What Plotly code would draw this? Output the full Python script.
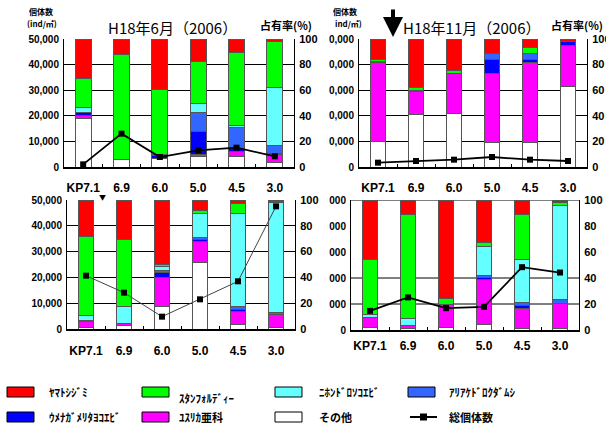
import plotly.graph_objects as go

W, H = 606, 427

categories = ["KP7.1", "6.9", "6.0", "5.0", "4.5", "3.0"]
panel_titles = ["H18年6月（2006）", "H18年11月（2006）", "", ""]
count_ticks = [0, 10000, 20000, 30000, 40000, 50000]
count_labels_full = ["0", "10,000", "20,000", "30,000", "40,000", "50,000"]
count_labels_tr = ["0", "0,000", "0,000", "0,000", "0,000", "0,000"]
count_labels_br = ["0", "000", "000", "000", "000", "000"]
pct_ticks = [0, 20, 40, 60, 80, 100]

series_names = ["その他", "ﾕｽﾘｶ亜科", "ｳﾒﾅｶﾞﾒﾘﾀﾖｺｴﾋﾞ", "ｱﾘｱｹﾄﾞﾛｸﾀﾞﾑｼ",
                "ﾆﾎﾝﾄﾞﾛｿｺｴﾋﾞ", "ｽﾀﾝﾌｫﾙﾃﾞｨｰ", "ﾔﾏﾄｼｼﾞﾐ"]
line_name = "総個体数"

# share (%) per panel: [top-left, top-right, bottom-left, bottom-right]
other = [[37.8, 5.7, 6.5, 8.3, 8.3, 3.9],
         [19.8, 40.9, 41.7, 19.5, 19.5, 63.0],
         [1.0, 2.6, 17.8, 51.7, 3.6, 1.3],
         [2.3, 1.0, 2.3, 4.4, 1.0, 1.0]]
yusurika = [[2.6, 0, 0, 1.6, 4.2, 6.0],
            [62.0, 17.7, 31.2, 53.9, 62.5, 32.0],
            [4.7, 1.3, 22.0, 16.5, 9.8, 9.6],
            [7.3, 2.1, 17.6, 34.4, 15.5, 19.7]]
umenaga = [[1.8, 0, 2.5, 18.2, 1.8, 0.5],
           [0, 1.0, 0, 10.5, 1.9, 2.7],
           [0.8, 0, 4.1, 0.8, 1.6, 0],
           [0, 0, 0, 1.8, 2.1, 0]]
ariake = [[0.5, 0, 1.0, 14.1, 16.2, 6.5],
          [0, 0.3, 0, 4.6, 4.6, 0],
          [0, 0, 1.1, 2.1, 2.1, 2.0],
          [0, 0, 0, 1.3, 2.6, 3.1]]
nihon = [[3.7, 0, 0, 7.3, 1.8, 45.1],
         [1.0, 0, 0, 0, 0, 0],
         [3.8, 13.4, 3.3, 18.6, 72.6, 85.3],
         [2.5, 5.9, 0, 22.7, 33.1, 71.8]]
stanford = [[22.4, 82.1, 50.4, 33.3, 57.5, 35.7],
            [1.1, 2.6, 2.6, 0, 4.5, 0],
            [61.3, 51.7, 1.8, 1.8, 7.7, 1.0],
            [42.2, 79.9, 4.4, 2.6, 34.6, 2.6]]
yamato = [[31.2, 12.2, 39.6, 17.2, 10.2, 2.3],
          [16.1, 37.5, 24.5, 11.5, 7.0, 2.3],
          [28.4, 31.0, 49.9, 8.5, 2.6, 0.8],
          [45.7, 11.1, 75.7, 32.8, 11.1, 1.8]]
# total individuals (ind/m2)
total_count = [[1040, 13020, 3900, 6500, 7550, 4170],
               [1690, 2340, 2860, 3900, 2860, 2340],
               [20670, 14080, 4780, 11500, 18480, 47540],
               [7360, 12530, 8400, 8920, 24160, 22100]]

colors = ["#FFFFFF", "#FF00FF", "#0000FF", "#3366FF", "#66FFFF", "#00FF00", "#FF0000"]
all_series = [other, yusurika, umenaga, ariake, nihon, stanford, yamato]

NUMFONT = "Liberation Sans, Arial, sans-serif"
JPFONT = "Noto Sans CJK JP, sans-serif"


def px_x(x):
    return x / W


def px_y(y):
    return 1 - y / H


# panel boxes in pixels: (left, right, top, bottom)
panels = [(64, 294, 39, 167), (359, 587, 39, 167), (67, 295, 200, 329), (351, 579, 200, 330)]
count_labels = [count_labels_full, count_labels_tr, count_labels_full, count_labels_br]
line_colors = ["#000000", "#000000", "#444444", "#000000"]
line_widths = [1.8, 1.8, 1.0, 1.8]
xlabel_standoff = [9, 9, 10, 4]

fig = go.Figure()
layout = {}
for i, (l, r, t, b) in enumerate(panels):
    n = i + 1
    xa = "x" if n == 1 else f"x{n}"
    ya_p = "y" if n == 1 else f"y{2 * n - 1}"
    ya_c = f"y{2 * n}"
    for s, vals in enumerate(all_series):
        fig.add_trace(go.Bar(
            x=categories, y=[v if v else None for v in vals[i]],
            name=series_names[s], marker=dict(color=colors[s], line=dict(color="#555555", width=1)),
            width=0.42, xaxis=xa, yaxis=ya_p, showlegend=False))
    fig.add_trace(go.Scatter(
        x=categories, y=total_count[i], mode="lines+markers", name=line_name,
        line=dict(color=line_colors[i], width=line_widths[i]),
        marker=dict(symbol="square", size=6, color="#000000"),
        xaxis=xa, yaxis=ya_c, showlegend=False))

    xkey = "xaxis" if n == 1 else f"xaxis{n}"
    pkey = "yaxis" if n == 1 else f"yaxis{2 * n - 1}"
    ckey = f"yaxis{2 * n}"
    layout[xkey] = dict(
        domain=[px_x(l), px_x(r)], anchor=ya_p, type="category", automargin=False,
        range=[-0.5, 5.5], showline=True, linecolor="black", linewidth=2,
        ticks="inside", tickson="boundaries", ticklen=3, tickcolor="black", tickangle=0,
        showgrid=False, tickfont=dict(family=NUMFONT, size=12, color="black", weight="bold"),
        ticklabelstandoff=xlabel_standoff[i], fixedrange=True)
    layout[pkey] = dict(
        domain=[px_y(b), px_y(t)], anchor=xa, side="right", range=[0, 100], automargin=False,
        tickvals=pct_ticks, showgrid=(i != 3), gridcolor="black", gridwidth=1,
        zeroline=False, showline=True, linecolor="black", linewidth=1, ticks="",
        tickfont=dict(family=NUMFONT, size=11, color="black", weight="bold"),
        ticklabelstandoff=2)
    layout[ckey] = dict(
        overlaying=ya_p, anchor=xa, side="left", range=[0, 50000], automargin=False,
        tickvals=count_ticks, ticktext=count_labels[i], showgrid=False, zeroline=False,
        showline=True, linecolor="black", linewidth=1, ticks="",
        tickfont=dict(family=NUMFONT, size=10, color="black", weight="bold"),
        ticklabelstandoff=2)

shapes = []
annotations = []

# bottom-right grid lines (only 20, 40 and the top visible)
for g in [20, 40, 100]:
    shapes.append(dict(type="line", xref="x4 domain", yref="y7", x0=0, x1=1, y0=g, y1=g,
                       line=dict(color="black", width=1), layer="below"))


def note(text, x, y, size, xanchor="center", weight="normal", family=JPFONT):
    annotations.append(dict(text=text, x=px_x(x), y=px_y(y), xref="paper", yref="paper",
                            xanchor=xanchor, yanchor="middle", showarrow=False,
                            font=dict(family=family, size=size, color="black", weight=weight)))


# titles
note(panel_titles[0], 172, 28, 15)
note(panel_titles[1], 472, 28, 15)
note("占有率(%)", 258, 25, 11, "left", "bold")
note("占有率(%)", 549, 25, 11, "left", "bold")
note("個体数", 27, 11, 8, "left", "bold")
note("(ind/㎡)", 25, 24, 8, "left", "bold")
note("個体数", 331, 11, 8, "left", "bold")
note("ind/㎡)", 333, 24, 8, "left", "bold")
note("▼", 102, 197, 7)

# arrow
annotations.append(dict(text="", x=px_x(393), y=px_y(37), ax=0, ay=-29, xref="paper", yref="paper",
                        showarrow=True, arrowhead=2, arrowsize=1, arrowwidth=4, arrowcolor="black"))

# legend (manual)
legend_pos = [
    (6, 7, 392, 47, 392), (5, 142, 392, 177, 398), (4, 275, 392, 317, 392), (3, 408, 392, 447, 392),
    (2, 7, 417, 47, 417), (1, 142, 417, 177, 417), (0, 275, 417, 317, 417),
]
for s, sx, sy, tx, ty in legend_pos:
    shapes.append(dict(type="rect", xref="paper", yref="paper",
                       x0=px_x(sx), x1=px_x(sx + 27), y0=px_y(sy - 5), y1=px_y(sy + 5),
                       fillcolor=colors[s], line=dict(color="black", width=1)))
    note(series_names[s], tx, ty, 11, "left", "bold")
shapes.append(dict(type="line", xref="paper", yref="paper", x0=px_x(410), x1=px_x(437),
                   y0=px_y(417), y1=px_y(417), line=dict(color="black", width=2)))
shapes.append(dict(type="rect", xref="paper", yref="paper", x0=px_x(420), x1=px_x(427),
                   y0=px_y(413.5), y1=px_y(420.5), fillcolor="black", line=dict(width=0)))
note(line_name, 447, 417, 11, "left", "bold")

fig.update_layout(
    width=W, height=H, margin=dict(l=0, r=0, t=0, b=0, autoexpand=False),
    paper_bgcolor="white", plot_bgcolor="rgba(0,0,0,0)",
    barmode="stack", showlegend=False,
    shapes=shapes, annotations=annotations, **layout)

fig.write_html("out.html", config={"displayModeBar": False},
               post_script="document.body.style.margin='0';document.body.style.overflow='hidden';")
